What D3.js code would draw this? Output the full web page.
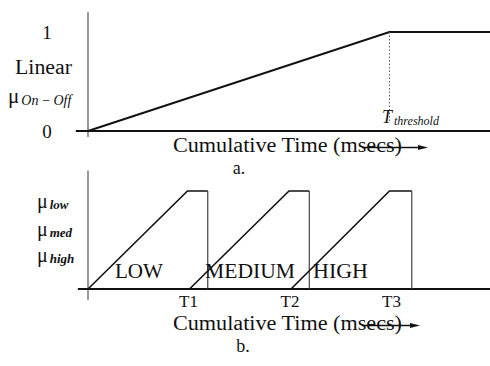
<!DOCTYPE html>
<html><head><meta charset="utf-8">
<script src="https://cdn.jsdelivr.net/npm/d3@7"></script>
<style>
html,body{margin:0;padding:0;background:#fff;}
svg{display:block;}
text{font-family:"Liberation Serif","Times New Roman",serif;fill:#111;}
</style></head>
<body>
<script>
// ---- data ----
const topTimes = [0, 2.97, 4.05];
const topValues = [0, 1, 1];
const thresholdTime = 2.97;
const classNames = ["LOW", "MEDIUM", "HIGH"];
const classStart = [0, 1.0, 2.0];
const classPeak = [0.98, 1.98, 2.97];
const classDrop = [1.18, 2.18, 3.19];
const tickTimes = [1.0, 2.0, 3.0];
const tickLabels = ["T1", "T2", "T3"];
const topYTicks = [1, 0];
const topYTickLabels = ["1", "0"];
const memberLabels = ["low", "med", "high"];

const W = 490, H = 366;
const svg = d3.select("body").append("svg").attr("width", W).attr("height", H);

const x = d3.scaleLinear().domain([0, 4]).range([88, 494]);
const yTop = d3.scaleLinear().domain([0, 1]).range([131, 32]);
const yBot = d3.scaleLinear().domain([0, 1]).range([289, 191]);

const ink = "#111";

// ---- top panel ----
const gT = svg.append("g");
gT.append("line").attr("x1", x(0)).attr("x2", x(0)).attr("y1", yTop(1.2)).attr("y2", yTop(-0.06))
  .attr("stroke", "#444").attr("stroke-width", 1.1);
gT.append("line").attr("x1", x(-0.12)).attr("x2", W).attr("y1", yTop(0)).attr("y2", yTop(0))
  .attr("stroke", ink).attr("stroke-width", 2);
const lineT = d3.line().x((d, i) => x(topTimes[i])).y(d => yTop(d));
gT.append("path").datum(topValues).attr("d", lineT).attr("fill", "none")
  .attr("stroke", ink).attr("stroke-width", 2);
gT.append("line").attr("x1", x(thresholdTime)).attr("x2", x(thresholdTime))
  .attr("y1", yTop(1)).attr("y2", yTop(0.08)).attr("stroke", "#555")
  .attr("stroke-width", 1).attr("stroke-dasharray", "1.5,2");
topYTicks.forEach((v, i) => {
  gT.append("text").attr("x", 47).attr("y", yTop(v)).attr("dy", "0.35em")
    .attr("text-anchor", "middle").attr("font-size", 19).text(topYTickLabels[i]);
});
gT.append("text").attr("x", 15).attr("y", 74).attr("font-size", 20)
  .attr("textLength", 57).attr("lengthAdjust", "spacingAndGlyphs").text("Linear");
const mu1 = gT.append("text").attr("x", 8).attr("y", 103).attr("font-size", 21);
mu1.append("tspan").text("μ");
mu1.append("tspan").attr("font-style", "italic").attr("font-size", 14).attr("dy", 2).attr("dx", 2).text("On\u2009−\u2009Off");
const th = gT.append("text").attr("x", 382).attr("y", 123);
th.append("tspan").attr("font-style", "italic").attr("font-size", 18).text("T");
th.append("tspan").attr("font-style", "italic").attr("font-size", 12).attr("dy", 2).attr("dx", 2).text("threshold");

function xLabel(g, yBase, yArrow, xEndArrow) {
  g.append("text").attr("x", 173).attr("y", yBase).attr("font-size", 20)
    .attr("textLength", 229).attr("lengthAdjust", "spacingAndGlyphs")
    .text("Cumulative Time (msecs)");
  g.append("line").attr("x1", 362).attr("x2", xEndArrow - 6).attr("y1", yArrow).attr("y2", yArrow)
    .attr("stroke", ink).attr("stroke-width", 1.4);
  g.append("path").attr("d", `M${xEndArrow},${yArrow} L${xEndArrow - 10},${yArrow - 2.5} L${xEndArrow - 10},${yArrow + 2.5} Z`)
    .attr("fill", ink);
}
xLabel(gT, 152, 147.5, 428);
gT.append("text").attr("x", 239).attr("y", 174).attr("text-anchor", "middle").attr("font-size", 18).text("a.");

// ---- bottom panel ----
const gB = svg.append("g");
gB.append("line").attr("x1", x(0)).attr("x2", x(0)).attr("y1", yBot(1.21)).attr("y2", yBot(-0.11))
  .attr("stroke", "#444").attr("stroke-width", 1.1);
gB.append("line").attr("x1", x(-0.1)).attr("x2", W).attr("y1", yBot(0)).attr("y2", yBot(0))
  .attr("stroke", ink).attr("stroke-width", 2);

const lineB = d3.line().x(d => x(d[0])).y(d => yBot(d[1]));
classNames.forEach((name, i) => {
  const pts = [[classStart[i], 0], [classPeak[i], 1], [classDrop[i], 1], [classDrop[i], 0]];
  gB.append("path").datum(pts.slice(0, 3)).attr("d", lineB).attr("fill", "none")
    .attr("stroke", ink).attr("stroke-width", 1.6);
  gB.append("path").datum(pts.slice(2)).attr("d", lineB).attr("fill", "none")
    .attr("stroke", "#333").attr("stroke-width", 1.1);
});
const classLabelX = [115, 205, 313];
const classLabelW = [48, 90, 55];
classNames.forEach((name, i) => {
  gB.append("text").attr("x", classLabelX[i]).attr("y", 278).attr("font-size", 20)
    .attr("textLength", classLabelW[i]).attr("lengthAdjust", "spacingAndGlyphs").text(name);
});
tickTimes.forEach((t, i) => {
  gB.append("text").attr("x", x(t) - 1).attr("y", 307).attr("text-anchor", "middle")
    .attr("font-size", 17).text(tickLabels[i]);
});
const muY = [208, 236, 262];
memberLabels.forEach((lab, i) => {
  const t = gB.append("text").attr("x", 37).attr("y", muY[i]).attr("font-size", 20);
  t.append("tspan").text("μ");
  t.append("tspan").attr("font-style", "italic").attr("font-weight", "bold").attr("font-size", 13).attr("dy", 1).attr("dx", 2).text(lab);
});
xLabel(gB, 330, 325.5, 420);
gB.append("text").attr("x", 243).attr("y", 352).attr("text-anchor", "middle").attr("font-size", 18).text("b.");
</script>
</body></html>
